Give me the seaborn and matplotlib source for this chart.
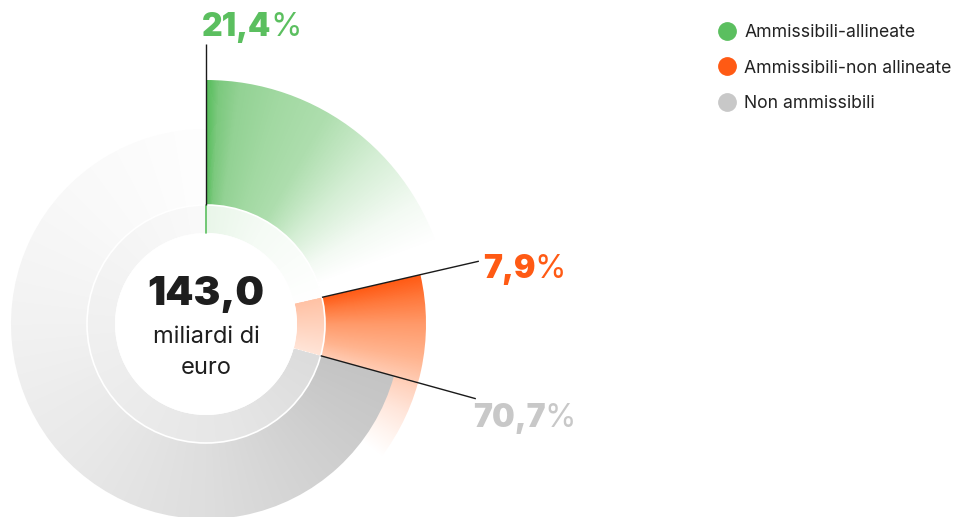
import numpy as np
import matplotlib.pyplot as plt
import seaborn as sns
from matplotlib.patches import Wedge, Circle
from matplotlib.colors import LinearSegmentedColormap
from matplotlib.lines import Line2D

# data
categories = ["Ammissibili-allineate", "Ammissibili-non allineate", "Non ammissibili"]
shares = [21.4, 7.9, 70.7]
share_labels = ["21,4", "7,9", "70,7"]
total_label = "143,0"
unit_lines = ["miliardi di", "euro"]

sns.set_theme(style="white")
plt.rcParams["font.family"] = ["Inter", "DejaVu Sans"]

palette = sns.color_palette(["#5bbf5f", "#ff5a14", "#c8c8c8"])

# layout in pixels
W, H = 963, 517
cx, cy = 206, 324
r_hole, r_inner = 91, 119
r_outer = [244, 220, 195]
r_leader = 280
label_offsets = [(-4, -8), (4, 17), (-3, 28)]

# gradient stops: (degrees clockwise from wedge start, colour)
outer_stops = [
    [(0, "#55bd5a"), (3, "#7cc97e"), (8, "#93d294"), (18, "#a2d9a2"), (30, "#aedeae"),
     (45, "#d4eed4"), (60, "#f3faf3"), (70, "#ffffff")],
    [(0, "#ff5a14"), (6, "#ff7a3e"), (13, "#ff9a6a"), (22, "#ffb48f"),
     (30, "#ffd2bd"), (37, "#ffe6db"), (44, "#fff5f0"), (50, "#ffffff")],
    [(0, "#c4c4c4"), (30, "#cfcfcf"), (75, "#dedede"), (120, "#e9e9e9"),
     (165, "#f2f2f2"), (210, "#f9f9f9"), (255, "#fefefe")],
]
inner_stops = [
    [(0, "#e9f6e9"), (30, "#f5fbf5"), (77, "#ffffff")],
    [(0, "#ffc2a5"), (28, "#ffe4d7")],
    [(0, "#dcdcdc"), (60, "#e6e6e6"), (120, "#ececec"), (180, "#f2f2f2"), (255, "#fafafa")],
]
extra_span = [0, 22, 0]

fig = plt.figure(figsize=(W / 100, H / 100), dpi=100)
ax = fig.add_axes([0, 0, 1, 1])
ax.set_xlim(0, W)
ax.set_ylim(H, 0)
ax.axis("off")

yy, xx = np.mgrid[0:H, 0:W] + 0.5
ang = np.degrees(np.arctan2(cy - yy, xx - cx))


def conic(start, stops):
    d = (start - ang) % 360
    span = stops[-1][0]
    cmap = LinearSegmentedColormap.from_list("g", [(s / span, c) for s, c in stops])
    return cmap(np.clip(d / span, 0, 1))


def fill(start, end, r, width, stops):
    w = Wedge((cx, cy), r, -start, -end, width=width, facecolor="none", edgecolor="none")
    ax.add_patch(w)
    im = ax.imshow(conic(start, stops), extent=(0, W, H, 0), origin="upper",
                   interpolation="bilinear", zorder=1)
    im.set_clip_path(w)


spans = [3.6 * s for s in shares]
starts = list(90 - np.concatenate([[0], np.cumsum(spans)[:-1]]))

for i in range(3):
    fill(starts[i], starts[i] - spans[i] - extra_span[i], r_outer[i],
         r_outer[i] - r_inner, outer_stops[i])
for i in range(3):
    fill(starts[i], starts[i] - spans[i], r_inner, r_inner - r_hole, inner_stops[i])

ax.add_patch(Circle((cx, cy), r_inner, facecolor="none", edgecolor="white", lw=1.2, zorder=3))
ax.add_patch(Circle((cx, cy), r_hole, facecolor="white", edgecolor="none", zorder=3))

# green tick inside inner ring
a0 = np.radians(starts[0])
ax.plot([cx + r_hole * np.cos(a0), cx + r_inner * np.cos(a0)],
        [cy - r_hole * np.sin(a0), cy - r_inner * np.sin(a0)],
        color=palette[0], lw=1.2, zorder=4)

for i, (lab, col) in enumerate(zip(share_labels, palette)):
    a = np.radians(starts[i])
    ex, ey = cx + r_leader * np.cos(a), cy - r_leader * np.sin(a)
    ax.plot([cx + r_inner * np.cos(a), ex], [cy - r_inner * np.sin(a), ey],
            color="#1a1a1a", lw=1, zorder=4, solid_capstyle="butt")
    dx, dy = label_offsets[i]
    t = ax.text(ex + dx, ey + dy, lab, color=col, fontsize=23, fontweight="black",
                ha="left", va="baseline", zorder=5)
    ax.annotate("%", xy=(1, 0), xycoords=t, xytext=(-1, 0), textcoords="offset points",
                color=col, fontsize=23, fontweight="normal", ha="left", va="bottom")

ax.text(cx, cy - 19, total_label, ha="center", va="baseline", fontsize=29,
        fontweight="black", color="#1e1e1e", zorder=5)
for k, line in enumerate(unit_lines):
    ax.text(cx, cy + 19 + 31 * k, line, ha="center", va="baseline", fontsize=17,
            color="#1e1e1e", zorder=5)

handles = [Line2D([], [], marker="o", ls="", markersize=12.5, markerfacecolor=c,
                  markeredgecolor=c) for c in palette]
fig.legend(handles, categories, loc="upper left", bbox_to_anchor=(718 / W, 1 - 24 / H),
           frameon=False, fontsize=12.7, handlelength=1.0, handletextpad=0.5,
           labelspacing=1.05, borderpad=0, borderaxespad=0, labelcolor="#222222")

fig.savefig("out.png", dpi=100)
